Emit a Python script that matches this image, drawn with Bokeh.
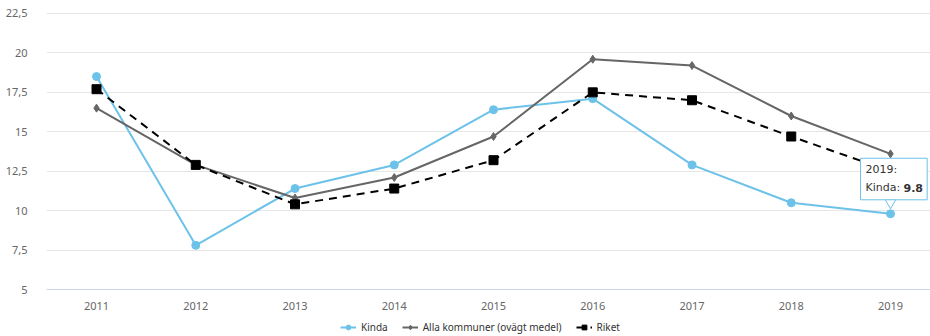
from bokeh.plotting import figure
from bokeh.models import FixedTicker, Legend, LegendItem, Label, Range1d
from bokeh.embed import file_html
from bokeh.resources import INLINE

years = [2011, 2012, 2013, 2014, 2015, 2016, 2017, 2018, 2019]
kinda = [18.5, 7.8, 11.4, 12.9, 16.4, 17.1, 12.9, 10.5, 9.8]
alla = [16.5, 12.9, 10.8, 12.1, 14.7, 19.6, 19.2, 16.0, 13.6]
riket = [17.7, 12.9, 10.4, 11.4, 13.2, 17.5, 17.0, 14.7, 12.5]
series_names = ["Kinda", "Alla kommuner (ovägt medel)", "Riket"]
y_ticks = [5, 7.5, 10, 12.5, 15, 17.5, 20, 22.5]
y_tick_labels = ["5", "7,5", "10", "12,5", "15", "17,5", "20", "22,5"]
x_tick_labels = [str(y) for y in years]

BLUE = "#6cc2e8"
GRAY = "#666666"
BLACK = "#000000"
FONT = "Noto Sans"

p = figure(width=930, height=336, output_backend="svg", toolbar_location=None,
           x_range=Range1d(2010.496, 2019.403), y_range=Range1d(2.02, 23.324),
           min_border_left=46, min_border_right=0, min_border_top=0, min_border_bottom=0)
p.outline_line_color = None
p.background_fill_color = "white"
p.border_fill_color = "white"

# axes
p.xaxis.fixed_location = y_ticks[0]
p.xaxis.ticker = FixedTicker(ticks=years)
p.xaxis.major_label_overrides = {y: t for y, t in zip(years, x_tick_labels)}
p.xaxis.axis_line_color = "#ccd6eb"
p.xaxis.major_tick_line_color = None
p.xaxis.minor_tick_line_color = None
p.xaxis.major_label_standoff = 6
p.xaxis.major_label_text_font = FONT
p.xaxis.major_label_text_font_size = "11px"
p.xaxis.major_label_text_color = "#666666"

p.yaxis.ticker = FixedTicker(ticks=y_ticks)
p.yaxis.major_label_overrides = {t: l for t, l in zip(y_ticks, y_tick_labels)}
p.yaxis.axis_line_color = None
p.yaxis.major_tick_line_color = None
p.yaxis.minor_tick_line_color = None
p.yaxis.major_label_standoff = 13
p.yaxis.major_label_text_font = FONT
p.yaxis.major_label_text_font_size = "11px"
p.yaxis.major_label_text_color = "#666666"

p.xgrid.grid_line_color = None
p.ygrid.grid_line_color = "#e6e6e6"
p.ygrid.grid_line_width = 1

# series
l1 = p.line(years, kinda, line_color=BLUE, line_width=2)
s1 = p.scatter(years, kinda, marker="circle", size=8, fill_color=BLUE, line_color=BLUE)
l2 = p.line(years, alla, line_color=GRAY, line_width=2)
s2 = p.scatter(years, alla, marker="diamond", size=8, fill_color=GRAY, line_color=GRAY)
l3 = p.line(years, riket, line_color=BLACK, line_width=2, line_dash="8 6")
s3 = p.scatter(years, riket, marker="square", size=9, fill_color=BLACK, line_color=BLACK)

legend = Legend(items=[
    LegendItem(label=series_names[0], renderers=[l1, s1]),
    LegendItem(label=series_names[1], renderers=[l2, s2]),
    LegendItem(label=series_names[2], renderers=[l3, s3]),
], orientation="horizontal", location=(294, 2))
legend.border_line_color = None
legend.background_fill_alpha = 0
legend.padding = 0
legend.margin = 0
legend.spacing = 14
legend.glyph_width = 16
legend.glyph_height = 12
legend.label_standoff = 5
legend.label_height = 12
legend.label_text_font = FONT
legend.label_text_font_size = "10px"
legend.label_text_color = "#333333"
p.add_layout(legend)

# tooltip for the last Kinda point
pointer = p.scatter([years[-1]], [kinda[-1] + 0.72], marker="inverted_triangle", size=11,
                    fill_color="white", line_color=BLUE, line_width=1)
box = Label(x=years[-1], y=kinda[-1], x_offset=-30, y_offset=14,
            text=f"{years[-1]}:\n{series_names[0]}:",
            text_font="DejaVu Sans", text_font_size="11px",
            text_color="#333333", text_align="left", text_baseline="bottom",
            background_fill_color="white", border_line_color=BLUE, border_line_width=1,
            padding=(5, 27, 5, 6), text_line_height=1.35)
p.add_layout(box)
val = Label(x=years[-1], y=kinda[-1], x_offset=13, y_offset=22,
            text=f"{kinda[-1]}", text_font="DejaVu Sans", text_font_size="11px",
            text_font_style="bold", text_color="#333333", text_align="left",
            text_baseline="bottom")
p.add_layout(val)

open("out.html", "w").write(file_html(p, INLINE))
